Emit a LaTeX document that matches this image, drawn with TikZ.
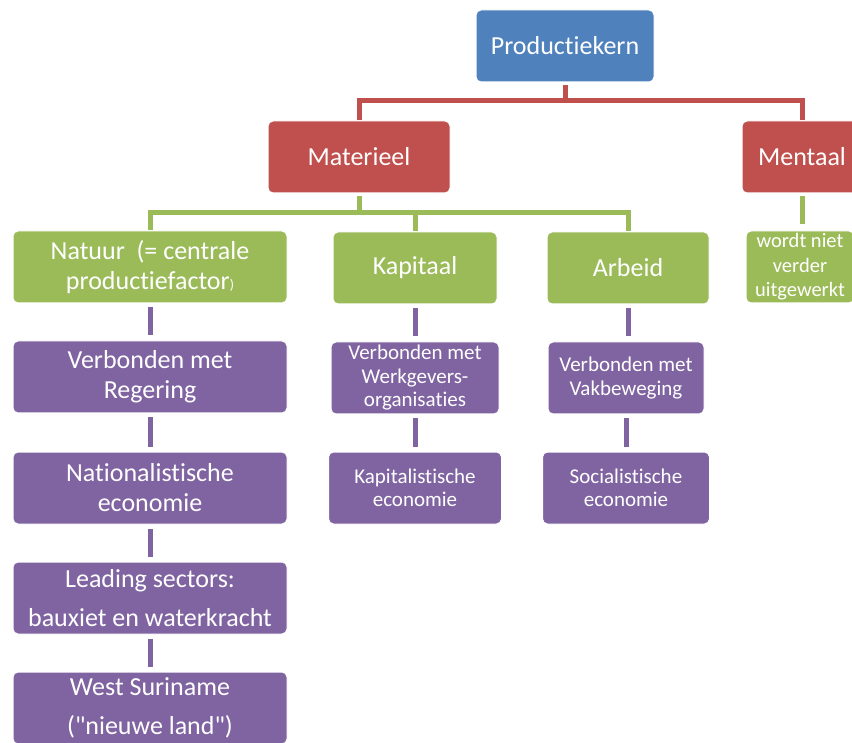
\documentclass[tikz,border=0pt]{standalone}
\usepackage{fontspec}
\setmainfont[RawFeature={-liga;-clig;-dlig;-calt}]{Carlito}
\usetikzlibrary{positioning,calc}

\definecolor{kernblue}{HTML}{4F81BD}
\definecolor{kernred}{HTML}{C0504D}
\definecolor{kerngreen}{HTML}{9BBB59}
\definecolor{kernpurple}{HTML}{8064A2}

\newcommand{\bigtxt}{\fontsize{26}{30}\selectfont}
\newcommand{\widetxt}{\fontsize{26}{38.5}\selectfont}
\newcommand{\smalltxt}{\fontsize{21}{23.5}\selectfont}

\begin{document}
\begin{tikzpicture}[x=1pt,y=-1pt,
    box/.style={rounded corners=5pt, draw=white, line width=1pt, text=white,
        align=center, inner sep=0pt, minimum height=72pt},
    bluebox/.style={box, fill=kernblue, font=\bigtxt},
    redbox/.style={box, fill=kernred, font=\bigtxt},
    greenbox/.style={box, fill=kerngreen, font=\bigtxt},
    purplebox/.style={box, fill=kernpurple, font=\bigtxt},
    link/.style={line width=5pt},
    redlink/.style={link, draw=kernred, shorten <=3pt},
    greenlink/.style={link, draw=kerngreen, shorten <=3pt},
    purplelink/.style={link, draw=kernpurple, shorten <=4pt, shorten >=5pt}]

    \useasboundingbox (0,0) rectangle (852,743);
    \clip (0,0) rectangle (852,743);

    \coordinate (c-prod) at (565,46);
    \coordinate (c-mat) at (359,157);
    \coordinate (c-ment) at (802,157);
    \coordinate (c-nat) at (150,267);
    \coordinate (c-kap) at (415,268);
    \coordinate (c-arb) at (628,268);
    \coordinate (c-niet) at (800,267);

    \node[bluebox, minimum width=178pt] (prod) at (c-prod) {Productiekern};
    \node[redbox, minimum width=182pt] (mat) at (c-mat) {Materieel};
    \node[redbox, minimum width=120pt] (ment) at (c-ment) {Mentaal};

    \node[greenbox, minimum width=274pt] (nat) at (c-nat)
        {Natuur\ \ (= centrale\\productiefactor{\fontsize{14}{14}\selectfont)}};
    \node[greenbox, minimum width=164pt] (kap) at (c-kap) {Kapitaal};
    \node[greenbox, minimum width=162pt] (arb) at (c-arb) {Arbeid};
    \node[greenbox, minimum width=108pt, font=\fontsize{20.5}{24.5}\selectfont] (niet) at (c-niet)
        {wordt niet\\verder\\uitgewerkt};

    \node[purplebox, minimum width=274pt] (reg) at (150,377) {Verbonden met\\Regering};
    \node[purplebox, minimum width=274pt] (nation) at (150,488) {Nationalistische\\economie};
    \node[purplebox, minimum width=274pt, font=\widetxt] (lead) at (150,598)
        {Leading sectors:\\bauxiet en waterkracht};
    \node[purplebox, minimum width=274pt, font=\widetxt] (west) at (150,708)
        {West Suriname\\(\textquotedbl nieuwe land\textquotedbl)};

    \node[purplebox, minimum width=168pt, font=\smalltxt] (werk) at (415,378)
        {Verbonden met\\Werkgevers-\\organisaties};
    \node[purplebox, minimum width=173pt, font=\smalltxt] (kapec) at (415,488)
        {Kapitalistische\\economie};
    \node[purplebox, minimum width=156pt, font=\smalltxt] (vak) at (626,378)
        {Verbonden met\\Vakbeweging};
    \node[purplebox, minimum width=167pt, font=\smalltxt] (soc) at (626,488)
        {Socialistische\\economie};

    \draw[redlink] (prod.south) -- ++(0,18) -| (mat.north);
    \draw[redlink] (prod.south) -- ++(0,18) -| (ment.north);

    \draw[greenlink] (mat.south) -- ++(0,19) -| (nat.north);
    \draw[greenlink] (mat.south) -- ++(0,19) -| (kap.north);
    \draw[greenlink] (mat.south) -- ++(0,19) -| (arb.north);
    \draw[greenlink, shorten >=6pt] (ment.south) -- (ment.south |- niet.north);

    \draw[purplelink] (nat.south) -- (reg.north);
    \draw[purplelink] (reg.south) -- (nation.north);
    \draw[purplelink] (nation.south) -- (lead.north);
    \draw[purplelink] (lead.south) -- (west.north);
    \draw[purplelink] (kap.south) -- (kap.south |- werk.north);
    \draw[purplelink] (werk.south) -- (kapec.north);
    \draw[purplelink] (arb.south) -- (arb.south |- vak.north);
    \draw[purplelink] (vak.south) -- (vak.south |- soc.north);
\end{tikzpicture}
\end{document}
